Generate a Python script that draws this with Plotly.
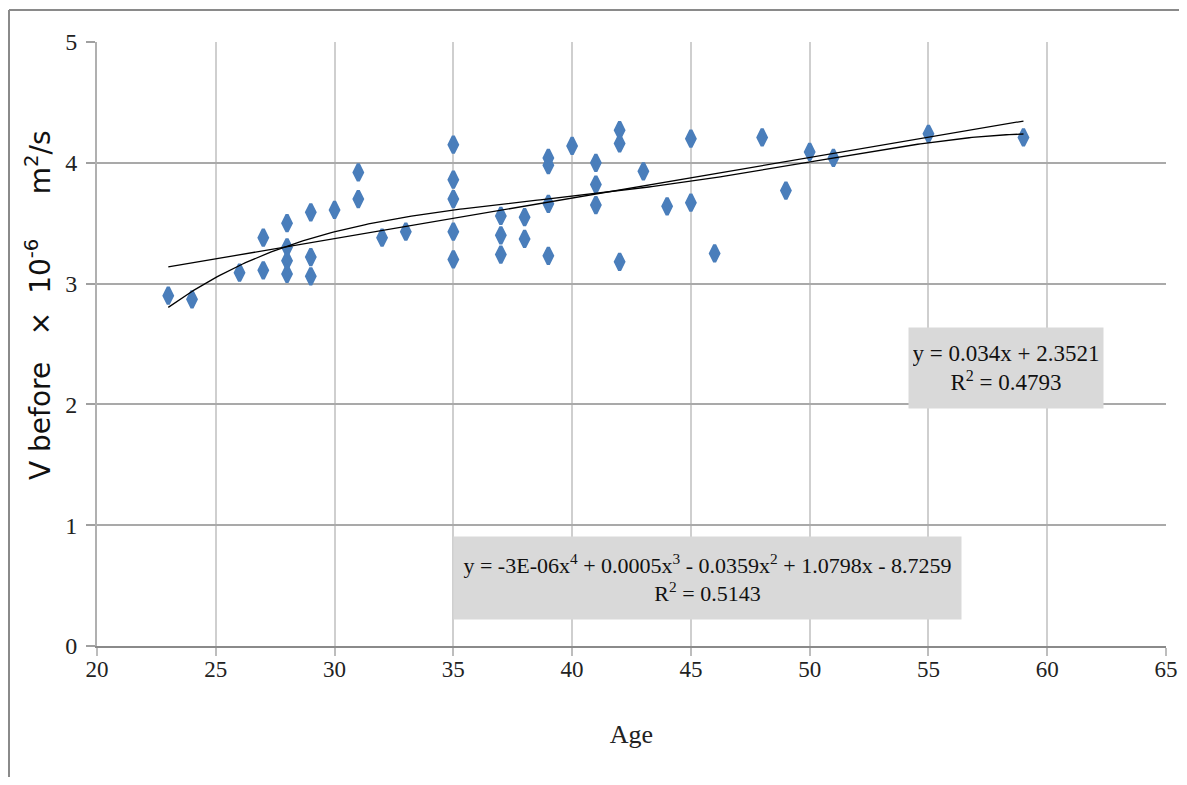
import numpy as np
import plotly.graph_objects as go

# ---- data ----
age = [23, 24, 26, 27, 27, 28, 28, 28, 28, 29, 29, 29, 30, 31, 31, 32, 33,
       35, 35, 35, 35, 35, 37, 37, 37, 38, 38, 39, 39, 39, 39, 40,
       41, 41, 41, 42, 42, 42, 43, 44, 45, 45, 46, 48, 49, 50, 51, 55, 59]
v_before = [2.90, 2.87, 3.09, 3.38, 3.11, 3.50, 3.30, 3.19, 3.08, 3.59, 3.22, 3.06,
            3.61, 3.92, 3.70, 3.38, 3.43,
            4.15, 3.86, 3.70, 3.43, 3.20, 3.56, 3.40, 3.24, 3.55, 3.37,
            4.04, 3.98, 3.66, 3.23, 4.14,
            4.00, 3.82, 3.65, 4.27, 4.16, 3.18, 3.93, 3.64, 4.20, 3.67, 3.25,
            4.21, 3.77, 4.09, 4.04, 4.24, 4.21]

x_ticks = [20, 25, 30, 35, 40, 45, 50, 55, 60, 65]
y_ticks = [0, 1, 2, 3, 4, 5]

NB = "\u00a0"
y_title = (f"V{NB}before{NB}{NB}{NB}×{NB}{NB}10<sup>-6</sup>"
           f"{NB}{NB}{NB}{NB}{NB}m<sup>2</sup>/s")
lin_label = "y = 0.034x + 2.3521<br>R<sup>2</sup> = 0.4793"
poly_label = ("y = -3E-06x<sup>4</sup> + 0.0005x<sup>3</sup> - 0.0359x<sup>2</sup> "
              "+ 1.0798x - 8.7259<br>R<sup>2</sup> = 0.5143")

# ---- trendlines fitted from the data (like Excel trendlines) ----
xa = np.array(age, dtype=float)
ya = np.array(v_before, dtype=float)
xf = np.linspace(xa.min(), xa.max(), 300)
lin_c = np.polyfit(xa, ya, 1)
poly_c = np.polyfit(xa, ya, 4)

SERIF = "Liberation Serif, Times New Roman, serif"

W, H = 1171, 769
ML, MR, MT, MB = 89, 13, 34, 131
PW, PH = W - ML - MR, H - MT - MB

fig = go.Figure()
fig.add_trace(go.Scatter(
    x=age, y=v_before, mode="markers",
    marker=dict(symbol="diamond-tall", size=12, color="#4a7ebb",
                line=dict(color="#4a7ebb", width=3.2)),
    showlegend=False, hoverinfo="x+y"))
fig.add_trace(go.Scatter(x=xf, y=np.polyval(lin_c, xf), mode="lines",
                         line=dict(color="black", width=1.3), showlegend=False))
fig.add_trace(go.Scatter(x=xf, y=np.polyval(poly_c, xf), mode="lines",
                         line=dict(color="black", width=1.3), showlegend=False))

fig.update_layout(
    width=W, height=H,
    margin=dict(l=ML, r=MR, t=MT, b=MB, autoexpand=False),
    paper_bgcolor="white", plot_bgcolor="white",
    font=dict(family=SERIF, size=24, color="#222"),
    xaxis=dict(range=[20, 65], tickvals=x_ticks, ticktext=[str(t) for t in x_ticks],
               tickfont=dict(family=SERIF, size=23),
               showgrid=True, gridcolor="#cfcfcf", gridwidth=1.5,
               showline=True, linecolor="#8a8a8a", linewidth=2,
               ticks="outside", ticklen=8, tickcolor="#bdbdbd", tickwidth=1.5,
               ticklabelstandoff=-7, ticklabeloverflow="allow",
               automargin=False, zeroline=False,
               title=dict(text="Age", font=dict(family=SERIF, size=26), standoff=44)),
    yaxis=dict(range=[0, 5], tickvals=y_ticks, ticktext=[str(t) for t in y_ticks],
               showgrid=True, gridcolor="#a9a9a9", gridwidth=2,
               showline=True, linecolor="#b0b0b0", linewidth=2,
               ticks="outside", ticklen=9, tickcolor="#a0a0a0", tickwidth=1.5,
               ticklabelstandoff=4, automargin=False,
               zeroline=False),
    annotations=[
        dict(x=(30 - ML) / PW, y=1 - (305 - 8 - MT) / PH, xref="paper", yref="paper",
             text=y_title, textangle=-90, showarrow=False,
             xanchor="center", yanchor="middle",
             font=dict(family="DejaVu Sans, sans-serif", size=28, color="#111")),
        dict(x=58.25, y=2.30, xref="x", yref="y", text=lin_label, showarrow=False,
             bgcolor="#d9d9d9", width=186, height=72, borderpad=4,
             font=dict(family=SERIF, size=23, color="#111"), align="center"),
        dict(x=45.7, y=0.56, xref="x", yref="y", text=poly_label, showarrow=False,
             bgcolor="#d9d9d9", width=499, height=74, borderpad=4,
             font=dict(family=SERIF, size=22, color="#111"), align="center"),
    ],
    shapes=[
        dict(type="line", xref="paper", yref="paper",
             x0=-(ML - 1) / PW, x1=-(ML - 1) / PW,
             y0=(PH + MT - 2) / PH, y1=-MB / PH,
             line=dict(color="#8a8a8a", width=2)),
        dict(type="line", xref="paper", yref="paper",
             x0=-(ML - 1) / PW, x1=(PW + MR) / PW,
             y0=(PH + MT - 2) / PH, y1=(PH + MT - 2) / PH,
             line=dict(color="#8a8a8a", width=2)),
    ],
)

fig.write_html("out.html")
